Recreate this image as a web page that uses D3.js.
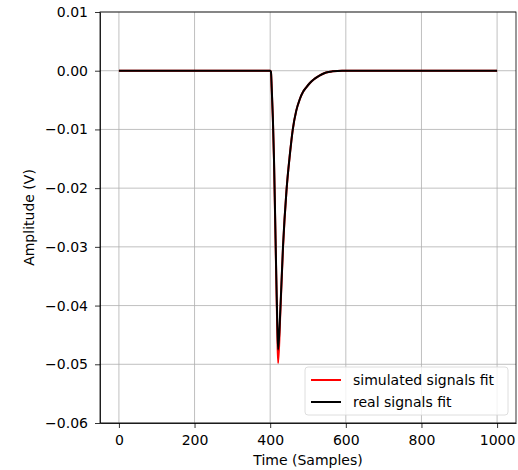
<!DOCTYPE html>
<html>
<head>
<meta charset="utf-8">
<script src="https://cdn.jsdelivr.net/npm/d3@7"></script>
<style>
  body { margin: 0; background: #fff; }
  text { font-family: "DejaVu Sans", sans-serif; }
</style>
</head>
<body>
<div id="chart"></div>
<script>
// samples
var samples = [0, 400, 402, 404, 407, 410, 413, 416, 419, 421, 427, 434, 443, 452, 460, 469, 478, 487, 496, 505, 515, 526, 537, 548, 565, 590, 1000];
var simulated = [0, 0, -0.0002, -0.003, -0.008, -0.015, -0.025, -0.035, -0.045, -0.0498, -0.041, -0.030, -0.0205, -0.0143, -0.0099, -0.0068, -0.0049, -0.0036, -0.0028, -0.0021, -0.0015, -0.001, -0.0006, -0.0003, -0.0001, 0, 0];
var real = [0, 0, -0.0002, -0.0028, -0.0078, -0.0148, -0.0245, -0.0345, -0.0435, -0.0475, -0.0405, -0.0298, -0.0205, -0.0143, -0.0099, -0.0068, -0.0049, -0.0036, -0.0028, -0.0021, -0.0015, -0.001, -0.0006, -0.0003, -0.0001, 0, 0];
var xTicks = [0, 200, 400, 600, 800, 1000];
var yTicks = [0.01, 0, -0.01, -0.02, -0.03, -0.04, -0.05, -0.06];
var seriesNames = ["simulated signals fit", "real signals fit"];
var seriesColors = ["#ff0000", "#000000"];

var W = 518, H = 470;
var m = {left: 100, right: 2, top: 12, bottom: 47};
var fs = 14;

var svg = d3.select("#chart").append("svg")
  .attr("width", W).attr("height", H);

var x = d3.scaleLinear().domain([-50, 1050]).range([m.left, W - m.right]);
var y = d3.scaleLinear().domain([-0.06, 0.01]).range([H - m.bottom, m.top]);

// grid
svg.append("g").selectAll("line").data(xTicks).enter().append("line")
  .attr("x1", d => x(d)).attr("x2", d => x(d))
  .attr("y1", m.top).attr("y2", H - m.bottom)
  .attr("stroke", "#b0b0b0").attr("stroke-width", 0.8);
svg.append("g").selectAll("line").data(yTicks).enter().append("line")
  .attr("y1", d => y(d)).attr("y2", d => y(d))
  .attr("x1", m.left).attr("x2", W - m.right)
  .attr("stroke", "#b0b0b0").attr("stroke-width", 0.8);

// lines
var line = d3.line().x(d => x(d[0])).y(d => y(d[1])).curve(d3.curveMonotoneX);
[simulated, real].forEach(function(vals, i) {
  svg.append("path")
    .datum(samples.map((s, k) => [s, vals[k]]))
    .attr("d", line)
    .attr("fill", "none")
    .attr("stroke", seriesColors[i])
    .attr("stroke-width", 2)
    .attr("stroke-linejoin", "round");
});

// axes
var xAxis = svg.append("g")
  .attr("transform", "translate(0," + (H - m.bottom) + ")")
  .call(d3.axisBottom(x).tickValues(xTicks).tickFormat(d3.format("d")).tickSize(5).tickPadding(7).tickSizeOuter(0));
var yAxis = svg.append("g")
  .attr("transform", "translate(" + m.left + ",0)")
  .call(d3.axisLeft(y).tickValues(yTicks).tickFormat(d3.format(".2f")).tickSize(5).tickPadding(7).tickSizeOuter(0));
[xAxis, yAxis].forEach(function(a) {
  a.selectAll("text").attr("font-size", fs).attr("fill", "#000")
    .attr("font-family", "DejaVu Sans, sans-serif");
  a.selectAll("line").attr("stroke", "#000").attr("stroke-width", 0.8);
  a.select(".domain").attr("stroke", "#000").attr("stroke-width", 0.8);
});

// right and top spines
svg.append("rect")
  .attr("x", m.left).attr("y", m.top)
  .attr("width", W - m.right - m.left).attr("height", H - m.bottom - m.top)
  .attr("fill", "none").attr("stroke", "#000").attr("stroke-width", 0.8);

// axis labels
svg.append("text")
  .attr("x", (m.left + W - m.right) / 2).attr("y", 465)
  .attr("text-anchor", "middle").attr("font-size", fs)
  .text("Time (Samples)");
svg.append("text")
  .attr("transform", "translate(34," + ((m.top + H - m.bottom) / 2) + ") rotate(-90)")
  .attr("text-anchor", "middle").attr("font-size", fs)
  .text("Amplitude (V)");

// legend
var lg = svg.append("g").attr("transform", "translate(305,367)");
lg.append("rect")
  .attr("width", 203).attr("height", 48).attr("rx", 3)
  .attr("fill", "#fff").attr("fill-opacity", 0.8)
  .attr("stroke", "#d6d6d6").attr("stroke-width", 0.8);
seriesNames.forEach(function(name, i) {
  var yy = 13 + i * 22;
  lg.append("line")
    .attr("x1", 6).attr("x2", 36).attr("y1", yy).attr("y2", yy)
    .attr("stroke", seriesColors[i]).attr("stroke-width", 2);
  lg.append("text")
    .attr("x", 48).attr("y", yy + 5)
    .attr("font-size", fs).text(name);
});
</script>
</body>
</html>
